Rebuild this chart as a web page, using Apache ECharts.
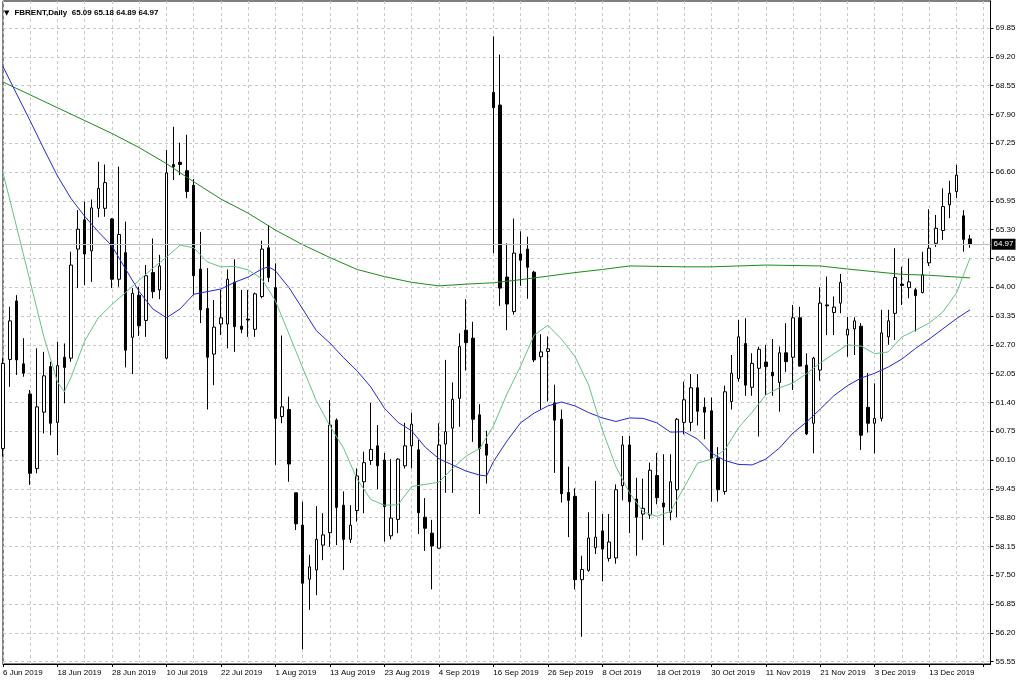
<!DOCTYPE html>
<html><head><meta charset="utf-8">
<script src="https://cdn.jsdelivr.net/npm/echarts@6/dist/echarts.min.js"></script>
<style>html,body{margin:0;padding:0;background:#fff;}#c{width:1024px;height:683px;}</style>
</head><body><div id="c"></div>
<script>
const symbolName = 'FBRENT,Daily';
const firstDate = '2019-06-06';
const emptySlots = 3;

const opens = [60.36,62.37,63.69,62.27,61.59,59.91,61.18,62.21,60.95,62.42,
62.40,64.86,65.52,64.82,65.78,65.78,65.54,64.18,64.78,62.87,
63.82,63.25,64.33,63.94,62.40,66.77,66.82,66.63,66.30,64.41,
63.52,62.49,63.17,63.17,64.11,63.12,63.28,63.05,63.79,64.89,
63.99,61.08,61.24,59.36,58.63,57.41,57.62,58.18,58.46,61.00,
59.08,58.31,58.96,59.61,60.09,60.42,60.10,58.39,58.76,59.97,
60.42,60.33,58.81,58.45,58.11,60.46,60.82,61.49,63.03,62.85,
61.12,60.46,68.40,68.11,64.23,63.45,64.75,64.86,64.34,62.43,
62.55,61.39,61.02,59.37,59.28,57.40,57.61,58.12,58.50,57.88,
57.89,59.52,60.44,59.22,58.88,58.86,59.75,59.13,58.92,59.43,
60.95,60.95,61.73,61.29,61.21,60.14,59.39,61.42,61.94,62.73,
61.74,62.17,62.31,62.08,61.85,62.52,62.42,63.31,62.24,60.93,
62.13,63.60,63.43,63.64,62.92,63.06,63.12,61.29,60.93,61.04,
62.88,63.41,64.07,63.99,63.94,63.88,64.55,64.99,65.28,65.86,
66.16,65.61,65.09];
const highs = [62.40,63.56,63.82,62.85,61.68,62.62,62.54,62.32,62.77,62.73,
64.80,65.74,65.93,65.98,66.83,66.77,65.56,66.72,65.48,63.98,
64.01,64.50,65.10,64.73,67.10,67.62,67.26,67.44,66.44,65.25,
64.43,63.71,63.94,64.40,64.63,63.94,63.94,63.88,65.05,65.40,
64.54,62.91,61.53,59.36,59.16,57.96,59.06,58.90,61.45,61.04,
59.39,59.08,59.91,60.29,61.39,60.89,60.26,60.12,60.14,60.94,
61.17,60.55,59.24,58.75,60.93,62.36,61.85,62.96,63.73,63.22,
61.36,60.76,69.66,69.25,64.99,65.55,65.26,65.14,64.37,62.94,
62.89,61.80,61.24,59.95,59.46,57.94,58.92,59.63,58.88,58.88,
59.55,60.64,60.64,59.70,59.68,60.04,60.26,60.23,60.23,61.05,
61.87,62.04,62.04,61.51,61.51,60.39,61.78,62.47,63.26,63.30,
62.51,62.66,62.70,62.83,62.66,63.19,63.60,63.56,62.51,62.43,
64.00,64.24,63.79,64.30,63.33,63.32,63.19,62.06,61.83,63.49,
63.49,64.88,64.46,64.65,63.98,64.80,65.76,65.63,66.23,66.40,
66.76,65.74,65.18];
const lows = [60.18,61.75,62.02,61.98,59.54,59.80,60.70,60.66,60.21,61.38,
62.32,63.98,64.05,64.12,65.58,65.59,63.98,64.01,62.19,62.04,
62.90,62.88,63.75,63.73,62.37,66.42,66.53,66.01,63.82,63.19,
61.24,61.79,62.92,62.62,62.54,62.96,62.88,62.88,63.75,64.12,
59.99,60.93,59.61,58.52,55.83,56.72,57.05,57.84,58.14,58.18,
57.62,58.23,58.71,58.90,59.99,59.44,58.26,58.31,58.45,59.91,
59.91,58.43,58.05,57.18,58.11,59.36,59.36,60.85,62.12,60.51,
58.88,59.57,64.77,63.58,63.03,63.38,64.03,63.74,62.31,61.24,
61.42,59.81,59.14,58.36,57.18,56.11,57.58,57.98,57.36,57.81,
57.76,59.19,58.45,57.94,58.30,58.77,59.10,58.18,58.74,58.81,
60.68,60.75,60.88,60.57,59.16,59.16,59.32,61.24,61.87,61.55,
61.55,60.63,61.57,61.55,61.19,62.09,61.68,62.21,60.66,60.25,
61.89,62.92,62.92,63.41,62.43,62.47,60.33,60.72,60.25,60.97,
62.70,62.81,63.60,63.75,63.00,63.86,64.48,64.91,65.07,65.56,
66.01,64.80,64.89];
const closes = [62.28,63.24,62.36,62.06,59.80,61.30,62.00,60.93,62.23,62.19,
64.50,65.31,64.75,65.79,66.23,66.36,64.18,65.19,62.58,63.86,
63.13,64.26,63.90,64.48,66.58,66.72,66.77,66.16,64.26,63.49,
62.42,63.10,63.31,64.18,63.11,63.05,63.26,63.85,64.86,64.22,
61.04,61.30,60.01,58.66,57.32,57.69,58.31,58.41,60.89,59.03,
58.31,58.63,59.74,60.04,60.34,59.97,59.05,58.79,60.12,60.42,
60.91,58.91,58.56,58.16,60.44,60.74,61.47,62.66,62.75,61.02,
60.36,60.21,68.05,63.98,63.62,64.77,64.61,64.45,62.36,62.54,
62.61,61.00,59.34,59.19,57.40,57.63,58.34,58.36,58.09,58.25,
59.43,60.44,59.16,58.81,59.01,59.87,59.25,59.04,59.61,61.02,
61.46,61.73,61.20,61.18,60.13,59.43,61.64,62.06,62.88,61.79,
62.28,62.60,62.21,62.00,62.52,62.32,63.31,62.22,60.69,62.40,
63.64,63.58,63.55,64.11,63.05,63.24,60.66,60.93,61.04,62.97,
63.24,64.22,64.04,64.12,63.81,64.28,64.88,65.33,65.82,66.12,
66.53,65.08,64.97];

// moving averages: [bar index, price]
const maFast = [[0,66.58],[2,65.36],[4,64.12],[6,62.88],[8,61.86],[9,61.64],[10,61.97],[12,62.79],[14,63.31],[16,63.61],[18,63.88],[20,64.16],[22,64.43],[24,64.68],[26,64.95],[28,64.89],[30,64.57],[32,64.46],[34,64.47],[36,64.39],[38,64.19],[40,63.69],[42,62.94],[44,62.18],[46,61.44],[48,60.87],[50,60.37],[52,59.67],[54,59.21],[56,59.08],[58,59.09],[60,59.50],[62,59.55],[64,59.60],[66,59.91],[68,60.19],[70,60.36],[72,60.87],[74,61.59],[76,62.22],[78,62.92],[80,63.14],[82,62.83],[84,62.43],[86,61.79],[88,60.78],[90,59.95],[92,59.36],[94,58.93],[96,58.83],[98,58.94],[100,59.48],[102,60.03],[104,60.12],[106,60.33],[108,60.83],[110,61.18],[112,61.57],[114,61.73],[116,61.84],[118,62.05],[120,62.29],[122,62.50],[124,62.70],[126,62.67],[128,62.50],[130,62.54],[132,62.88],[134,63.03],[136,63.19],[138,63.44],[140,63.87],[142,64.66]];
const maMid = [[0,68.98],[2,68.36],[4,67.75],[6,67.12],[8,66.51],[10,66.00],[12,65.60],[14,65.25],[16,64.93],[18,64.41],[20,63.90],[22,63.51],[24,63.31],[26,63.51],[28,63.84],[30,63.90],[32,63.96],[34,64.11],[36,64.23],[38,64.41],[39,64.46],[40,64.37],[42,63.99],[44,63.51],[46,63.02],[48,62.74],[50,62.41],[52,62.11],[54,61.75],[56,61.27],[58,60.95],[60,60.76],[62,60.39],[64,60.13],[66,59.99],[68,59.85],[70,59.76],[71,59.74],[72,60.06],[74,60.53],[76,60.94],[78,61.16],[80,61.32],[82,61.41],[84,61.32],[86,61.17],[88,61.05],[90,60.97],[92,61.05],[94,61.04],[96,60.94],[98,60.73],[100,60.74],[102,60.57],[104,60.26],[106,60.09],[108,60.00],[110,59.99],[112,60.12],[114,60.37],[116,60.71],[118,60.96],[120,61.25],[122,61.55],[124,61.78],[126,61.95],[128,62.06],[130,62.20],[132,62.38],[134,62.62],[136,62.83],[138,63.06],[140,63.29],[142,63.49]];
const maSlow = [[0,68.63],[4,68.34],[8,68.05],[12,67.76],[16,67.47],[20,67.15],[24,66.79],[28,66.38],[32,65.99],[36,65.67],[40,65.29],[44,64.96],[48,64.67],[52,64.40],[56,64.24],[60,64.11],[64,64.03],[68,64.07],[72,64.10],[76,64.17],[80,64.25],[84,64.33],[88,64.40],[92,64.48],[96,64.47],[100,64.46],[104,64.46],[108,64.48],[112,64.50],[116,64.49],[120,64.48],[124,64.41],[128,64.35],[132,64.29],[136,64.27],[140,64.23],[142,64.21]];

const yTicks = [55.55,56.20,56.85,57.50,58.15,58.80,59.45,60.10,60.75,61.40,62.05,62.70,63.35,64.00,64.65,65.30,65.95,66.60,67.25,67.90,68.55,69.20,69.85];
const yMin = 55.497, yMax = 70.459;

// trading-day categories (weekdays) starting at firstDate
const months = ['Jan','Feb','Mar','Apr','May','Jun','Jul','Aug','Sep','Oct','Nov','Dec'];
const cats = [];
{
  let d = new Date(firstDate + 'T00:00:00Z');
  const total = opens.length + emptySlots;
  while (cats.length < total) {
    const wd = d.getUTCDay();
    if (wd !== 0 && wd !== 6) cats.push(d.getUTCDate() + ' ' + months[d.getUTCMonth()] + ' ' + d.getUTCFullYear());
    d = new Date(d.getTime() + 86400000);
  }
}
const nBars = opens.length;
const candles = opens.map((o, i) => [o, closes[i], lows[i], highs[i]]);
const last = nBars - 1;
const titleText = symbolName + '  ' + opens[last].toFixed(2) + ' ' + highs[last].toFixed(2) + ' ' + lows[last].toFixed(2) + ' ' + closes[last].toFixed(2);
const lastPrice = closes[last];

const FONT = 'Liberation Sans';
const gridColor = '#c8c8c8';
const chart = echarts.init(document.getElementById('c'), null, {renderer: 'canvas'});
chart.setOption({
  animation: false,
  backgroundColor: '#fff',
  title: {
    left: 4, top: 4, padding: 0,
    text: '{t|▼} {s|' + titleText + '}',
    textStyle: {rich: {
      t: {fontSize: 7, color: '#000', fontFamily: 'DejaVu Sans'},
      s: {fontSize: 8, color: '#000', fontFamily: FONT}
    }}
  },
  grid: {left: 3, top: 1, width: 987.5, height: 663, containLabel: false, outerBoundsMode: 'none',
    show: true, borderColor: '#000', borderWidth: 1, backgroundColor: 'transparent'},
  xAxis: {
    type: 'category', data: cats, boundaryGap: false,
    axisLine: {show: true, onZero: false, lineStyle: {color: '#000', width: 1}},
    axisTick: {show: true, interval: 7, length: 3, lineStyle: {color: '#000'}},
    axisLabel: {interval: 7, align: 'left', color: '#000', fontSize: 8, fontFamily: FONT, margin: 5,
      formatter: (v, i) => (i < nBars ? v : '')},
    splitLine: {show: true, interval: 3, lineStyle: {color: gridColor, width: 1, type: [3, 3]}}
  },
  yAxis: {
    type: 'value', position: 'right', min: yMin, max: yMax,
    axisLine: {show: true, lineStyle: {color: '#000', width: 1}},
    axisTick: {show: true, length: 3, customValues: yTicks, lineStyle: {color: '#000'}},
    axisLabel: {customValues: yTicks, color: '#000', fontSize: 8, fontFamily: FONT, margin: 5, formatter: v => v.toFixed(2), hideOverlap: false},
    splitLine: {show: true, lineStyle: {color: gridColor, width: 1, type: [3, 3]}}
  },
  series: [{
    type: 'candlestick', data: candles, barWidth: 3,
    itemStyle: {color: '#fff', color0: '#000', borderColor: '#000', borderColor0: '#000', borderWidth: 1},
    markLine: {
      silent: true, symbol: ['none', 'none'], animation: false,
      data: [{yAxis: lastPrice}],
      lineStyle: {color: '#bdbdbd', type: 'solid', width: 1},
      label: {show: true, position: 'end', distance: 1, formatter: lastPrice.toFixed(2),
        backgroundColor: '#000', color: '#fff', fontSize: 8, fontFamily: FONT, padding: [2, 2, 1, 2]}
    },
    z: 2
  }, {
    type: 'line', data: maSlow, showSymbol: false, connectNulls: true, z: 3,
    lineStyle: {color: '#1a8c1a', width: 1}
  }, {
    type: 'line', data: maMid, showSymbol: false, connectNulls: true, z: 3,
    lineStyle: {color: '#2424e8', width: 1}
  }, {
    type: 'line', data: maFast, showSymbol: false, connectNulls: true, z: 3,
    lineStyle: {color: '#62c488', width: 1}
  }]
});
</script></body></html>
